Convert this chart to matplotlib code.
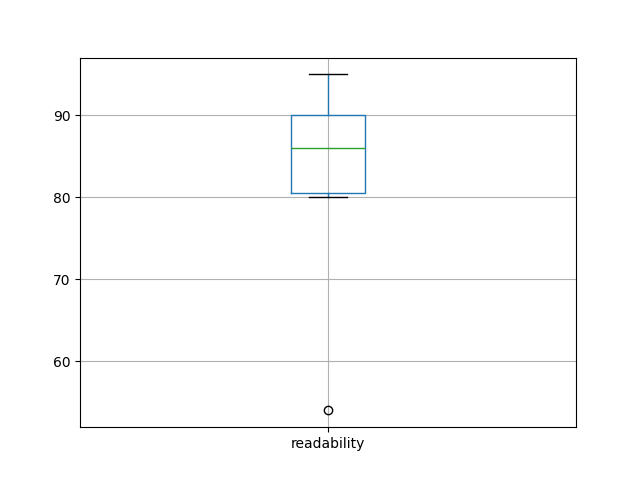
import pandas as pd
import matplotlib
matplotlib.use("Agg")
import matplotlib.pyplot as plt

# readability scores
readability = [54, 80, 81, 86, 90, 90, 95]

df = pd.DataFrame({"readability": readability})

fig = plt.figure(figsize=(6.4, 4.8), dpi=100)
ax = fig.add_subplot(111)
df.boxplot(column="readability", ax=ax)
plt.savefig("out.png")
